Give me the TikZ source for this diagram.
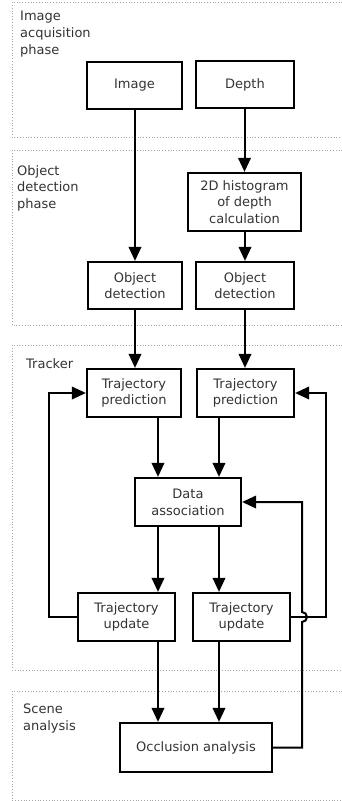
\documentclass[tikz,border=0pt]{standalone}
\usepackage{fontspec}
\setmainfont{DejaVu Sans}
\usetikzlibrary{arrows.meta,calc}
\definecolor{txt}{HTML}{333333}
\begin{document}
\begin{tikzpicture}[x=1pt,y=-1pt,
 box/.style={draw,line width=2.2pt,align=center,inner sep=0pt,font=\fontsize{13}{16.7}\selectfont,text=txt},
 phase/.style={draw=gray!70,line width=0.8pt,dotted},
 arr/.style={line width=2pt,-{Triangle[length=14pt,width=12.5pt]}},
 lbl/.style={anchor=north west,align=left,inner sep=0pt,font=\fontsize{13}{16.7}\selectfont,text=txt}]
\useasboundingbox (0,0) rectangle (341,801);
% phase frames
\draw[phase] (345,2) -- (12,2) -- (12,137) -- (345,137);
\draw[phase] (345,150) -- (12,150) -- (12,325) -- (345,325);
\draw[phase] (345,345) -- (12,345) -- (12,670) -- (345,670);
\draw[phase] (345,691) -- (12,691) -- (12,800) -- (345,800);
\node[lbl] (l1) at (20,11) {Image\\acquisition\\phase};
\node[lbl] (l2) at (17,165) {Object\\detection\\phase};
\node[lbl] (l3) at (26,358) {Tracker};
\node[lbl] (l4) at (23,704) {Scene\\analysis};
% nodes
\node[box,minimum width=95pt,minimum height=47pt] (img) at (134.5,85.5) {Image};
\node[box,minimum width=98pt,minimum height=47pt] (dep) at (245,84.5) {Depth};
\node[box,minimum width=113pt,minimum height=58pt] (his) at (244.5,202) {2D histogram\\of depth\\calculation};
\node[box,minimum width=94pt,minimum height=47pt] (odL) at (135,285.5) {Object\\detection};
\node[box,minimum width=98pt,minimum height=47pt] (odR) at (245,285.5) {Object\\detection};
\node[box,minimum width=94pt,minimum height=48pt] (tpL) at (134,393) {Trajectory\\prediction};
\node[box,minimum width=97pt,minimum height=48pt] (tpR) at (245.5,393) {Trajectory\\prediction};
\node[box,minimum width=106pt,minimum height=48pt] (da) at (188,502) {Data\\association};
\node[box,minimum width=97pt,minimum height=48pt] (tuL) at (126.5,617) {Trajectory\\update};
\node[box,minimum width=97pt,minimum height=48pt] (tuR) at (241.5,617) {Trajectory\\update};
\node[box,minimum width=152pt,minimum height=49pt] (occ) at (196,747.5) {Occlusion analysis};
% helper x positions
\coordinate (xa) at (158,0);
\coordinate (xb) at (219,0);
\coordinate (fl) at (49,0);
\coordinate (fr) at (326,0);
\coordinate (fo) at (302,0);
% arrows
\draw[arr] (img.south -| odL) -- (odL.north);
\draw[arr] (dep.south -| his) -- (his.north);
\draw[arr] (his.south -| odR) -- (odR.north);
\draw[arr] (odL.south) -- (odL.south |- tpL.north);
\draw[arr] (odR.south) -- (odR.south |- tpR.north);
\draw[arr] (tpL.south -| xa) -- (da.north -| xa);
\draw[arr] (tpR.south -| xb) -- (da.north -| xb);
\draw[arr] (da.south -| xa) -- (tuL.north -| xa);
\draw[arr] (da.south -| xb) -- (tuR.north -| xb);
\draw[arr] (tuL.south -| xa) -- (occ.north -| xa);
\draw[arr] (tuR.south -| xb) -- (occ.north -| xb);
% feedback loops
\draw[arr] (tuL.west) -- (tuL.west -| fl) |- (tpL.west);
\draw[arr] (tuR.east) -- (tuR.east -| fr) |- (tpR.east);
\draw[arr] (occ.east) -- (occ.east -| fo) -- ($(tuR.east -| fo)+(0,5)$) arc[start angle=-90,end angle=90,radius=5pt] |- (da.east);
\end{tikzpicture}
\end{document}
